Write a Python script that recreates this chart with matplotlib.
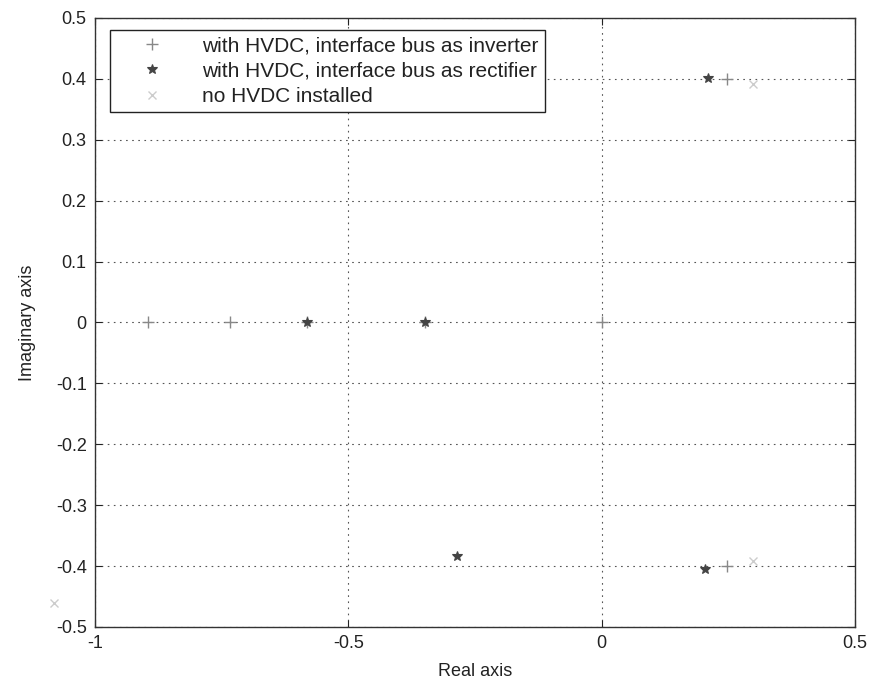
import numpy as np
import matplotlib.pyplot as plt

plt.rcParams['font.family'] = ['Liberation Sans', 'DejaVu Sans']
plt.rcParams['axes.unicode_minus'] = False

# pole locations (real, imag) for each case
inv_re = [-0.896, -0.734, -0.582, -0.349, 0.0, 0.247, 0.247]
inv_im = [0.0, 0.0, 0.0, 0.0, 0.0, 0.400, -0.400]

rec_re = [-0.582, -0.349, -0.286, -0.286, 0.209, 0.203]
rec_im = [0.0, 0.0, -0.383, 0.383, 0.402, -0.404]

base_re = [0.298, 0.298, -1.08]
base_im = [0.392, -0.391, -0.46]

labels = ['with HVDC, interface bus as inverter',
          'with HVDC, interface bus as rectifier',
          'no HVDC installed']

fig = plt.figure(figsize=(8.75, 6.89), dpi=100)
ax = fig.add_axes([0.1086, 0.09, 0.8686, 0.884])

ax.plot(inv_re, inv_im, '+', color='#888888', ms=8, mew=1.0, label=labels[0])
ax.plot(rec_re, rec_im, '*', color='#444444', ms=7, mew=0.8, label=labels[1])
ax.plot(base_re, base_im, 'x', color='#cccccc', ms=6, mew=1.0, label=labels[2],
        clip_on=False)

ax.set_xlim(-1, 0.5)
ax.set_ylim(-0.5, 0.5)
ax.set_xticks([-1, -0.5, 0, 0.5])
ax.set_xticklabels(['-1', '-0.5', '0', '0.5'])
ax.set_yticks(np.round(np.arange(-0.5, 0.51, 0.1), 1))
ax.set_yticklabels(['-0.5', '-0.4', '-0.3', '-0.2', '-0.1', '0',
                    '0.1', '0.2', '0.3', '0.4', '0.5'])
ax.grid(True, linestyle=(0, (1.5, 4)), color='#555555', linewidth=0.8)
ax.tick_params(direction='in', top=True, right=True, labelsize=13,
               colors='#222222', length=5, pad=6)
for s in ax.spines.values():
    s.set_color('#333333')
    s.set_linewidth(1.0)

ax.set_xlabel('Real axis', fontsize=13, color='#222222', labelpad=8)
ax.set_ylabel('Imaginary axis', fontsize=13, color='#222222', labelpad=14)

leg = ax.legend(loc='upper left', bbox_to_anchor=(0.02, 0.98), fontsize=15,
                fancybox=False, framealpha=1, edgecolor='#222222',
                handlelength=3.4, handletextpad=0.7, borderpad=0.3,
                labelspacing=0.3, borderaxespad=0)
leg.get_frame().set_linewidth(1.0)
leg.set_zorder(5)
for t in leg.get_texts():
    t.set_color('#222222')

fig.savefig('out.png', dpi=100)
